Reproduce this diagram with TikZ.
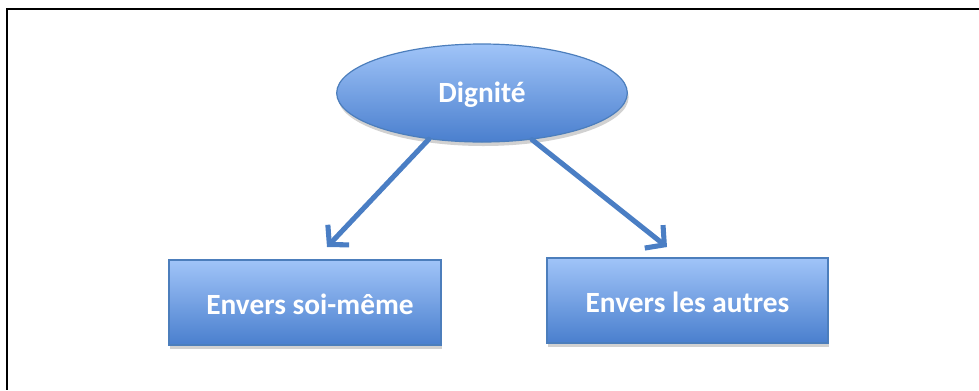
\documentclass[tikz,border=0pt]{standalone}
\usepackage{fontspec}
\setmainfont{Carlito}
\usetikzlibrary{shapes.geometric,arrows.meta,shadows}
\definecolor{topblue}{HTML}{A0C4F8}
\definecolor{botblue}{HTML}{4A7FCE}
\definecolor{edgeblue}{HTML}{4C7EBC}
\definecolor{arrowblue}{HTML}{4A7EC4}
\begin{document}
\begin{tikzpicture}[x=0.75pt,y=-0.75pt,
  shadebox/.style={draw=edgeblue,line width=0.9pt,top color=topblue,bottom color=botblue,inner sep=0pt,
    drop shadow={shadow xshift=1pt,shadow yshift=-3pt,opacity=0.3,fill=black!60}},
  label text/.style={text=white,font=\bfseries\fontsize{22pt}{26pt}\selectfont,inner sep=0pt},
  flow/.style={draw=arrowblue,line width=3.8pt,-{Straight Barb[length=10pt,width=22pt,line width=3.8pt]},
    line cap=round}]
\useasboundingbox (0,0) rectangle (979,390);
\draw[line width=1.6pt,black] (979,9) -- (7,9) -- (7,390);
\node[shadebox,ellipse,minimum width=218pt,minimum height=73.5pt] (d) at (482,93) {};
\node[label text] (dt) at (482,95) {Dignité};
\node[shadebox,rectangle,minimum width=204pt,minimum height=63.75pt] (a) at (305,302.5) {};
\node[label text] (at) at (310,304) {Envers soi-même};
\node[shadebox,rectangle,minimum width=210.75pt,minimum height=63.75pt] (b) at (687.5,300.5) {};
\node[label text] (bt) at (687.5,302) {Envers les autres};
\coordinate (ta) at (327,247);
\coordinate (tb) at (667,247);
\draw[flow] (d.221) -- (ta);
\draw[flow] (d.317) -- (tb);
\end{tikzpicture}
\end{document}
